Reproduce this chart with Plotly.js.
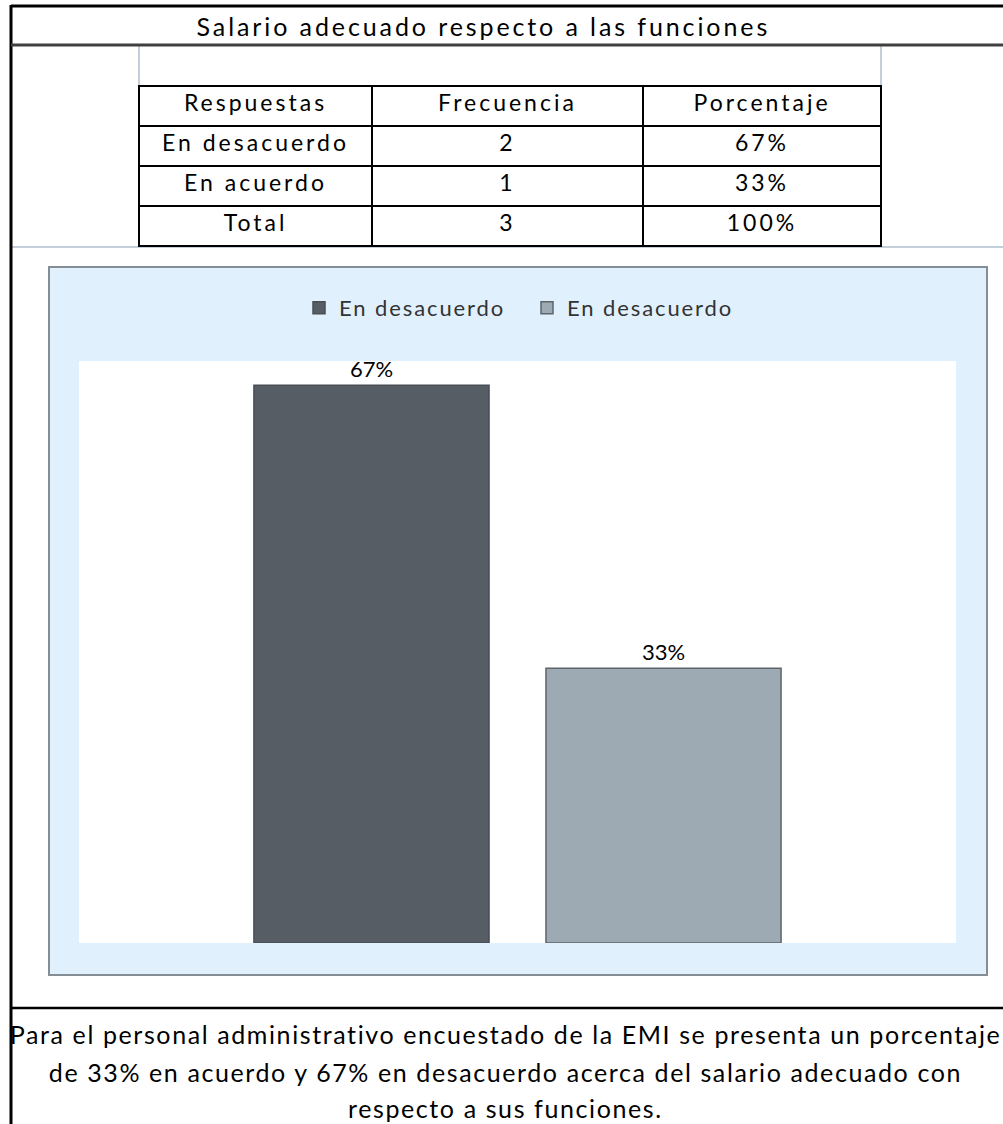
<!DOCTYPE html>
<html>
<head>
<meta charset="utf-8">
<script src="https://cdn.plot.ly/plotly-3.0.1.min.js"></script>
<style>
  html, body { margin: 0; padding: 0; background: #ffffff; }
  #chart { width: 1003px; height: 1124px; }
  #chart g.annotation[data-index="0"] text { letter-spacing: 2.9px; }
  #chart g.annotation[data-index="1"] text,
  #chart g.annotation[data-index="2"] text,
  #chart g.annotation[data-index="3"] text { letter-spacing: 1.6px; }
  #chart .legendtext { letter-spacing: 1.9px; }
  #chart .table text { letter-spacing: 3px; }
</style>
</head>
<body>
<div id="chart"></div>
<script>
// ---- Data ----
const tableTitle = 'Salario adecuado respecto a las funciones';
const headers = ['Respuestas', 'Frecuencia', 'Porcentaje'];
const respuestas = ['En desacuerdo', 'En acuerdo', 'Total'];
const frecuencia = [2, 1, 3];
const porcentajeLabels = ['67%', '33%', '100%'];

const seriesNames = ['En desacuerdo', 'En desacuerdo'];
const seriesValues = [0.67, 0.33];
const seriesLabels = ['67%', '33%'];
const category = ['Salario'];

const caption = [
  'Para el personal administrativo encuestado de la EMI se presenta un porcentaje',
  'de 33% en acuerdo y 67% en desacuerdo acerca del salario adecuado con',
  'respecto a sus funciones.'
];

// ---- Layout helpers (pixel -> paper) ----
const W = 1003, H = 1124;
const px = x => x / W;
const py = y => 1 - y / H;
const FONT = 'Lato, "Open Sans", sans-serif';

const barColors = ['#565d64', '#9eaab3'];
const barLines = ['#484e54', '#5e666c'];

const traces = seriesValues.map((v, i) => ({
  type: 'bar',
  name: seriesNames[i],
  x: category,
  y: [v],
  text: [seriesLabels[i]],
  textposition: 'outside',
  textfont: { family: FONT, size: 22, color: '#000000' },
  cliponaxis: false,
  marker: { color: barColors[i], line: { color: barLines[i], width: 1.5 } },
  hoverinfo: 'skip'
}));

traces.push({
  type: 'table',
  domain: { x: [px(139), px(881)], y: [py(250), py(86)] },
  columnwidth: [233, 271, 238],
  header: {
    values: headers,
    align: 'center',
    height: 40,
    line: { color: '#000000', width: 2 },
    fill: { color: '#ffffff' },
    font: { family: FONT, size: 23, color: '#000000' }
  },
  cells: {
    values: [respuestas, frecuencia, porcentajeLabels],
    align: 'center',
    height: 40,
    line: { color: '#000000', width: 2 },
    fill: { color: '#ffffff' },
    font: { family: FONT, size: 23, color: '#000000' }
  }
});

const grid = '#c3cfdb';
const shapes = [
  // chart area
  { type: 'rect', xref: 'paper', yref: 'paper', x0: px(49), x1: px(987), y0: py(975), y1: py(267),
    fillcolor: '#e1f0fd', line: { color: '#858d95', width: 2 }, layer: 'below' },
  // plot area
  { type: 'rect', xref: 'paper', yref: 'paper', x0: px(79), x1: px(956), y0: py(943), y1: py(361),
    fillcolor: '#ffffff', line: { width: 0 }, layer: 'below' },
  // spreadsheet gridlines
  { type: 'line', xref: 'paper', yref: 'paper', x0: px(139), x1: px(139), y0: py(45), y1: py(86), line: { color: grid, width: 2 }, layer: 'below' },
  { type: 'line', xref: 'paper', yref: 'paper', x0: px(881), x1: px(881), y0: py(45), y1: py(86), line: { color: grid, width: 2 }, layer: 'below' },
  { type: 'line', xref: 'paper', yref: 'paper', x0: px(12), x1: px(1003), y0: py(247), y1: py(247), line: { color: grid, width: 2 }, layer: 'below' },
  // frame
  { type: 'line', xref: 'paper', yref: 'paper', x0: px(11), x1: px(1003), y0: py(6), y1: py(6), line: { color: '#000000', width: 3 } },
  { type: 'line', xref: 'paper', yref: 'paper', x0: px(11), x1: px(11), y0: py(5), y1: py(1124), line: { color: '#000000', width: 3 } },
  { type: 'line', xref: 'paper', yref: 'paper', x0: px(11), x1: px(1003), y0: py(45), y1: py(45), line: { color: '#404040', width: 3 } },
  { type: 'line', xref: 'paper', yref: 'paper', x0: px(11), x1: px(1003), y0: py(1008), y1: py(1008), line: { color: '#000000', width: 2.5 } }
];

const annotations = [
  { text: tableTitle, xref: 'paper', yref: 'paper', x: px(483), y: py(26), xanchor: 'center', yanchor: 'middle',
    showarrow: false, font: { family: FONT, size: 25, color: '#000000' } }
];
const capY = [1034, 1072, 1108];
caption.forEach((line, i) => annotations.push({
  text: line, xref: 'paper', yref: 'paper', x: px(505), y: py(capY[i]), xanchor: 'center', yanchor: 'middle',
  showarrow: false, font: { family: FONT, size: 25, color: '#000000' }
}));

const layout = {
  width: W, height: H,
  margin: { l: 0, r: 0, t: 0, b: 0 },
  paper_bgcolor: '#ffffff',
  plot_bgcolor: 'rgba(0,0,0,0)',
  showlegend: true,
  legend: {
    orientation: 'h', x: px(299), y: py(308), xanchor: 'left', yanchor: 'middle',
    entrywidth: 183, entrywidthmode: 'pixels',
    bgcolor: 'rgba(0,0,0,0)', font: { family: FONT, size: 22, color: '#333333' },
    traceorder: 'normal'
  },
  barmode: 'group',
  bargap: 0.334,
  bargroupgap: 0.195,
  xaxis: { domain: [px(79), px(956)], showticklabels: false, showgrid: false, zeroline: false, showline: false, ticks: '', fixedrange: true },
  yaxis: { domain: [py(943), py(361)], range: [0, 0.699], showticklabels: false, showgrid: false, zeroline: false, showline: false, ticks: '', fixedrange: true },
  shapes: shapes,
  annotations: annotations
};

Plotly.newPlot('chart', traces, layout, { displayModeBar: false, staticPlot: true });
</script>
</body>
</html>
